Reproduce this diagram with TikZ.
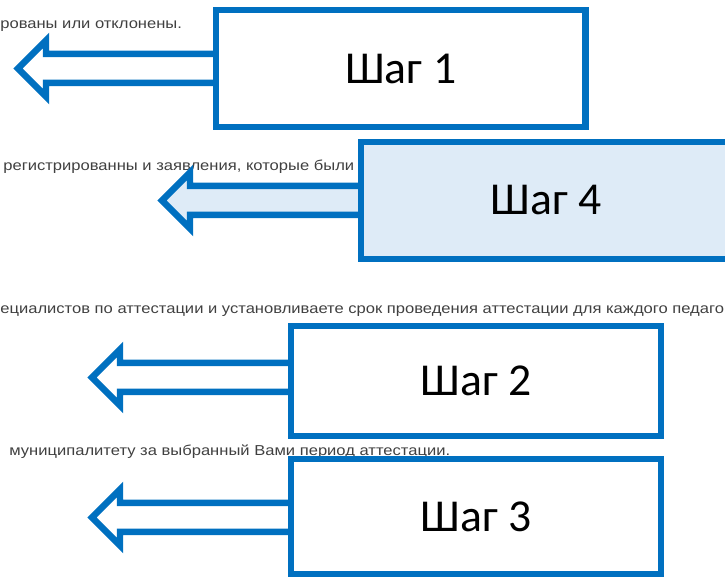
\documentclass[tikz,border=0pt]{standalone}
\usepackage{fontspec}
\newfontfamily\stepfont{Carlito}
\newfontfamily\pagefont[FakeStretch=1.15]{Liberation Sans}
\usetikzlibrary{backgrounds,calc}
\definecolor{stepblue}{RGB}{0,112,192}
\definecolor{steplight}{RGB}{222,235,247}
\definecolor{pagegray}{RGB}{64,64,64}

\begin{document}
\begin{tikzpicture}[x=0.02cm,y=-0.02cm,
    stepbox/.style={draw=stepblue,line width=0.13cm,fill=white,minimum width=7.4cm,
      font=\stepfont\fontsize{26}{30}\selectfont},
    steparrow/.style={draw=stepblue,line width=0.13cm,fill=white},
    pagetext/.style={anchor=base west,inner sep=0pt,text=pagegray,
      font=\pagefont\fontsize{8.2}{10}\selectfont}]
    %myborder
    \useasboundingbox (0,0) rectangle (725,577);
    %steps
    \node[stepbox,minimum height=2.34cm] (step1) at (400.75,68.5) {Шаг 1};
    \node[stepbox,minimum height=2.34cm,fill=steplight] (step4) at (546,200.5) {Шаг 4};
    \node[stepbox,minimum height=2.2cm] (step2) at (476,381) {Шаг 2};
    \node[stepbox,minimum height=2.3cm] (step3) at (476,516.5) {Шаг 3};

    \begin{scope}[on background layer]
    %pagetext
    \node[pagetext] (line1) at (0,28.5) {рованы или отклонены.};
    \node[pagetext] (line2) at (3,171) {регистрированны и заявления, которые были};
    \node[pagetext] (line3) at (0,314) {ециалистов по аттестации и установливаете срок проведения аттестации для каждого педагога};
    \node[pagetext] (line4) at (9,456) {муниципалитету за выбранный Вами период аттестации.};

    %arrows
    \coordinate (tip1) at (18,68.5);
    \coordinate (tip4) at (162,200.5);
    \coordinate (tip2) at (92,377.5);
    \coordinate (tip3) at (92,517.5);
    \draw[steparrow] (tip1) -- ++(28,-28) -- ++(0,13.5) -| (step1.center) |- ($(tip1)+(28,14.5)$) -- ++(0,13.5) -- cycle;
    \draw[steparrow,fill=steplight] (tip4) -- ++(28,-28) -- ++(0,13.5) -| (step4.center) |- ($(tip4)+(28,14.5)$) -- ++(0,13.5) -- cycle;
    \draw[steparrow] (tip2) -- ++(28,-28) -- ++(0,13.5) -| (step2.center) |- ($(tip2)+(28,14.5)$) -- ++(0,13.5) -- cycle;
    \draw[steparrow] (tip3) -- ++(28,-28) -- ++(0,13.5) -| (step3.center) |- ($(tip3)+(28,14.5)$) -- ++(0,13.5) -- cycle;
    \end{scope}

\end{tikzpicture}
\end{document}
